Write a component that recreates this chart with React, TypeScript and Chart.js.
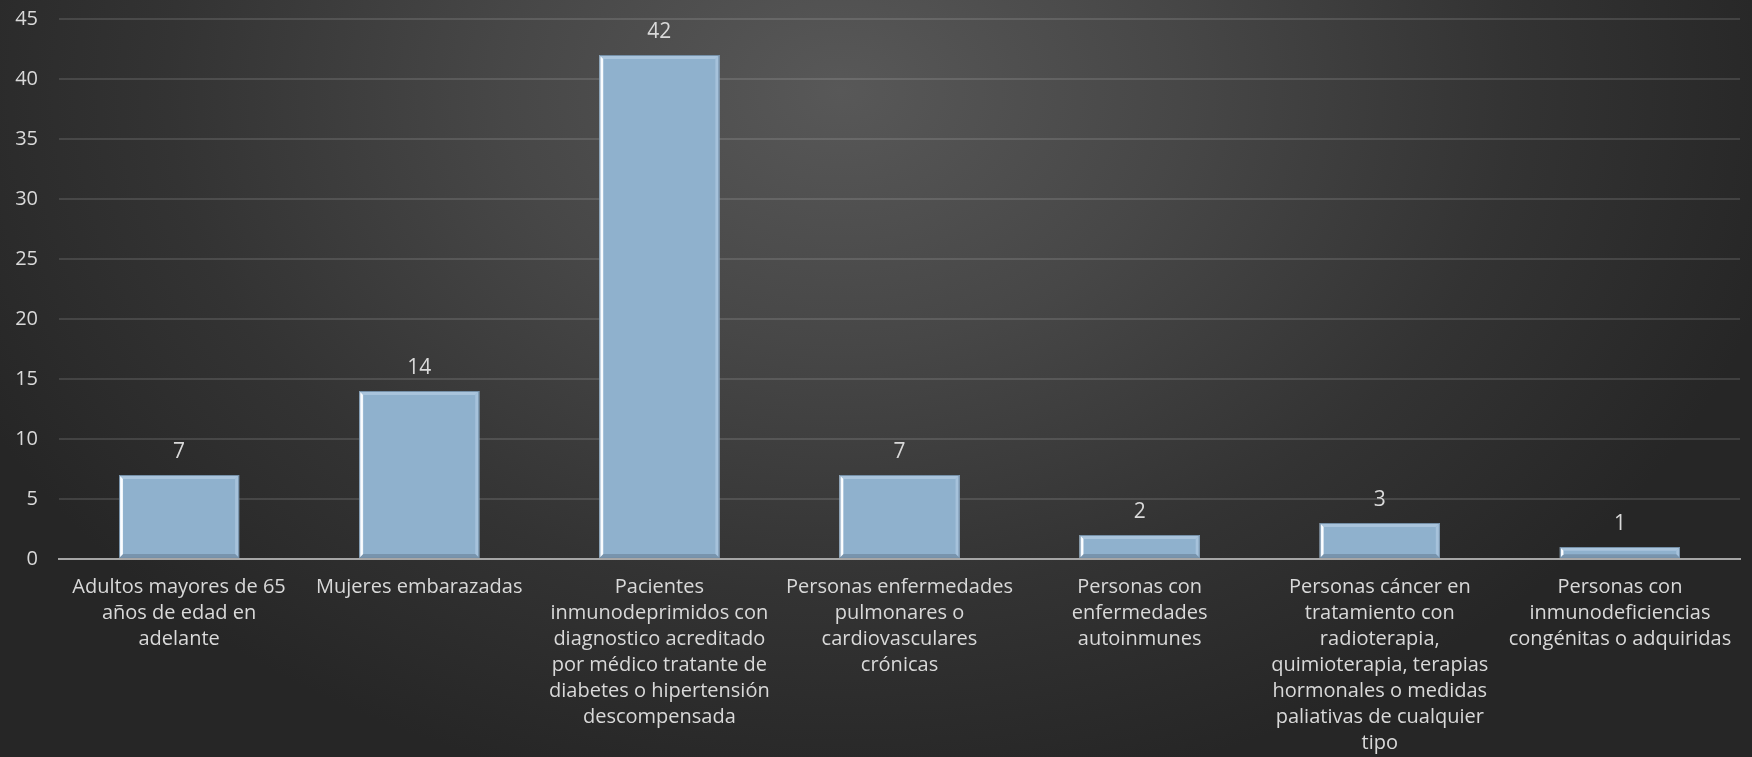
import React, { useEffect, useRef } from "react";
import { Chart, registerables } from "chart.js";

Chart.register(...registerables);

const categories: string[][] = [
  ["Adultos mayores de 65", "años de edad en", "adelante"],
  ["Mujeres embarazadas"],
  ["Pacientes", "inmunodeprimidos con", "diagnostico acreditado", "por médico tratante de", "diabetes o hipertensión", "descompensada"],
  ["Personas enfermedades", "pulmonares o", "cardiovasculares", "crónicas"],
  ["Personas con", "enfermedades", "autoinmunes"],
  ["Personas cáncer en", "tratamiento con", "radioterapia,", "quimioterapia, terapias", "hormonales o medidas", "paliativas de cualquier", "tipo"],
  ["Personas con", "inmunodeficiencias", "congénitas o adquiridas"],
];
const values: number[] = [7, 14, 42, 7, 2, 3, 1];
const yMin = 0;
const yMax = 45;
const yStep = 5;

const FONT = "'Open Sans', sans-serif";
const TEXT = "#d9d9d9";

const bevelPlugin = {
  id: "bevel",
  afterDatasetDraw(chart: any, args: any) {
    const ctx = chart.ctx;
    const meta = args.meta;
    meta.data.forEach((bar: any) => {
      const { x, y, base, width } = bar.getProps(["x", "y", "base", "width"], true);
      const l = x - width / 2;
      const r = x + width / 2;
      const t = Math.min(y, base);
      const b = Math.max(y, base);
      const h = b - t;
      const d = Math.min(4, h / 3);
      ctx.save();
      ctx.beginPath();
      ctx.moveTo(l, t); ctx.lineTo(r, t); ctx.lineTo(r - d, t + d); ctx.lineTo(l + d, t + d); ctx.closePath();
      ctx.fillStyle = "#a9c4dc";
      ctx.fill();
      ctx.beginPath();
      ctx.moveTo(r, t); ctx.lineTo(r, b); ctx.lineTo(r - d, b - d); ctx.lineTo(r - d, t + d); ctx.closePath();
      ctx.fillStyle = "#a6c2db";
      ctx.fill();
      ctx.beginPath();
      ctx.moveTo(l, b); ctx.lineTo(r, b); ctx.lineTo(r - d, b - d); ctx.lineTo(l + d, b - d); ctx.closePath();
      ctx.fillStyle = "#7894ad";
      ctx.fill();
      const g = ctx.createLinearGradient(l, 0, l + d + 1, 0);
      g.addColorStop(0, "#e8f4ff");
      g.addColorStop(0.6, "#ffffff");
      g.addColorStop(1, "#b9d2e8");
      ctx.beginPath();
      ctx.moveTo(l, t); ctx.lineTo(l + d, t + d); ctx.lineTo(l + d, b - d); ctx.lineTo(l, b); ctx.closePath();
      ctx.fillStyle = g;
      ctx.fill();
      ctx.strokeStyle = "#7590a8";
      ctx.lineWidth = 1;
      ctx.strokeRect(l + 0.5, t + 0.5, width - 1, h - 1);
      ctx.restore();
    });
  },
  afterDatasetsDraw(chart: any) {
    const ctx = chart.ctx;
    const meta = chart.getDatasetMeta(0);
    const data = chart.data.datasets[0].data;
    ctx.save();
    ctx.font = `21px ${FONT}`;
    ctx.fillStyle = TEXT;
    ctx.textAlign = "center";
    ctx.textBaseline = "alphabetic";
    meta.data.forEach((bar: any, i: number) => {
      const { x, y } = bar.getProps(["x", "y"], true);
      ctx.fillText(String(data[i]), x, y - 17);
    });
    ctx.restore();
  },
};

export default function App() {
  const ref = useRef<HTMLCanvasElement | null>(null);
  useEffect(() => {
    if (!ref.current) return;
    const chart = new Chart(ref.current, {
      type: "bar",
      data: {
        labels: categories,
        datasets: [
          {
            data: values,
            backgroundColor: "#8fb1cd",
            borderWidth: 0,
            barPercentage: 0.5,
            categoryPercentage: 1,
          },
        ],
      },
      options: {
        responsive: false,
        animation: false,
        layout: { padding: { top: 19, right: 12, left: 0, bottom: 0 } },
        plugins: { legend: { display: false }, tooltip: { enabled: false } },
        scales: {
          x: {
            grid: { display: false, drawTicks: false },
            border: { display: true, color: "#a6a6a6", width: 2 },
            ticks: {
              color: TEXT,
              font: { family: FONT, size: 20, lineHeight: 1.3 },
              maxRotation: 0,
              minRotation: 0,
              autoSkip: false,
              padding: 15,
            },
            afterFit: (scale: any) => {
              scale.height = 198;
            },
          },
          y: {
            min: yMin,
            max: yMax,
            grid: { color: "rgba(255,255,255,0.12)", lineWidth: 2, drawTicks: false },
            border: { display: false },
            ticks: {
              stepSize: yStep,
              color: TEXT,
              font: { family: FONT, size: 20 },
              padding: 21,
            },
            afterFit: (scale: any) => {
              scale.width = 59;
              scale.paddingTop = 0;
              scale.paddingBottom = 0;
            },
          },
        },
      },
      plugins: [bevelPlugin],
    });
    return () => chart.destroy();
  }, []);
  return (
    <div
      style={{
        position: "fixed",
        left: 0,
        top: 0,
        width: 1752,
        height: 757,
        background:
          "radial-gradient(ellipse 55% 95% at 48% 12%, #585858 0%, #474747 35%, #333333 70%, #262626 100%)",
      }}
    >
      <canvas ref={ref} width={1752} height={757} style={{ display: "block" }} />
    </div>
  );
}
